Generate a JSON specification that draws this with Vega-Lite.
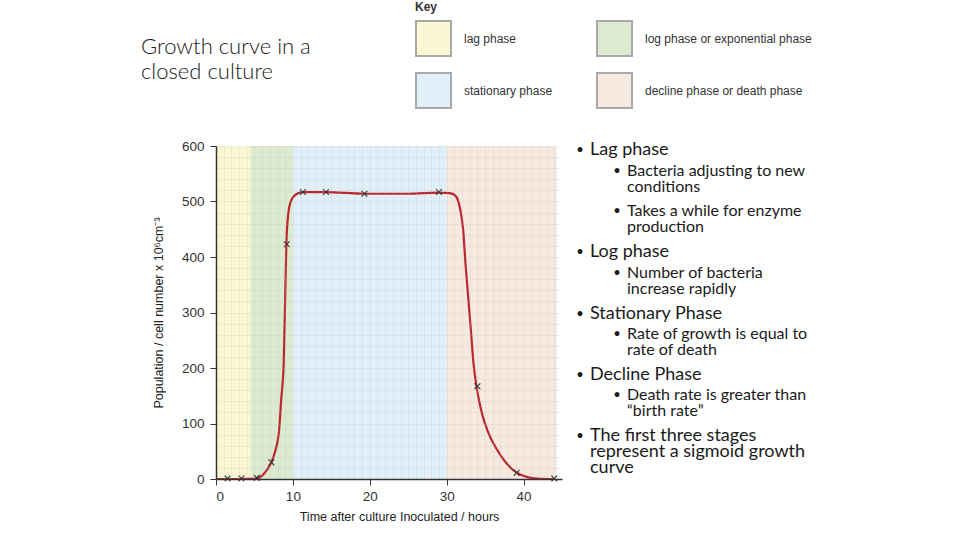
{
  "$schema": "https://vega.github.io/schema/vega-lite/v6.json",
  "padding": {"left": 141, "top": 2, "right": 5, "bottom": 5},
  "bounds": "flush",
  "spacing": 9.5,
  "background": "white",
  "config": {"view": {"stroke": null}, "font": "Liberation Sans"},
  "datasets": {
    "phases": [
      {"phase": "lag phase", "start": 0, "end": 4.5},
      {"phase": "log phase or exponential phase", "start": 4.5, "end": 10},
      {"phase": "stationary phase", "start": 10, "end": 30},
      {"phase": "decline phase or death phase", "start": 30, "end": 44.3}
    ],
    "curve": [
      {"time": 0, "population": 0}, {"time": 2, "population": 0}, {"time": 4, "population": 0.3},
      {"time": 5.3, "population": 1}, {"time": 6.0, "population": 6}, {"time": 6.7, "population": 18},
      {"time": 7.2, "population": 30}, {"time": 7.7, "population": 50}, {"time": 8.2, "population": 87},
      {"time": 8.5, "population": 147}, {"time": 8.8, "population": 207}, {"time": 9.0, "population": 327},
      {"time": 9.15, "population": 423}, {"time": 9.4, "population": 478}, {"time": 9.7, "population": 499},
      {"time": 10.1, "population": 509}, {"time": 10.7, "population": 515}, {"time": 11.3, "population": 517},
      {"time": 14.3, "population": 517}, {"time": 19.3, "population": 514}, {"time": 25, "population": 514},
      {"time": 29, "population": 516}, {"time": 30.4, "population": 515}, {"time": 31.1, "population": 511},
      {"time": 31.7, "population": 490}, {"time": 32.15, "population": 448}, {"time": 32.45, "population": 388},
      {"time": 32.8, "population": 328}, {"time": 33.15, "population": 268}, {"time": 33.5, "population": 207},
      {"time": 33.9, "population": 165}, {"time": 34.5, "population": 123}, {"time": 35.4, "population": 84},
      {"time": 36.5, "population": 54}, {"time": 37.5, "population": 33}, {"time": 39.06, "population": 12},
      {"time": 40.6, "population": 3}, {"time": 42.3, "population": 0.3}, {"time": 44, "population": 0}
    ],
    "samples": [
      {"time": 1.5, "population": 1}, {"time": 3.3, "population": 1}, {"time": 5.3, "population": 2},
      {"time": 7.2, "population": 30}, {"time": 9.2, "population": 423}, {"time": 11.3, "population": 517},
      {"time": 14.3, "population": 517}, {"time": 19.3, "population": 514}, {"time": 29.0, "population": 517},
      {"time": 34.0, "population": 167}, {"time": 39.1, "population": 11}, {"time": 44.0, "population": 1}
    ],
    "notes": [
      {"line": 0, "level": 1, "text": "Lag phase"},
      {"line": 1, "level": 2, "text": "Bacteria adjusting to new\nconditions"},
      {"line": 3, "level": 2, "text": "Takes a while for enzyme\nproduction"},
      {"line": 5, "level": 1, "text": "Log phase"},
      {"line": 6, "level": 2, "text": "Number of bacteria\nincrease rapidly"},
      {"line": 8, "level": 1, "text": "Stationary Phase"},
      {"line": 9, "level": 2, "text": "Rate of growth is equal to\nrate of death"},
      {"line": 11, "level": 1, "text": "Decline Phase"},
      {"line": 12, "level": 2, "text": "Death rate is greater than\n“birth rate”"},
      {"line": 14, "level": 1, "text": "The first three stages\nrepresent a sigmoid growth\ncurve"}
    ]
  },
  "hconcat": [
    {
      "width": 346,
      "height": 333,
      "title": {
        "text": ["Growth curve in a", "closed culture"],
        "anchor": "start",
        "frame": "group",
        "orient": "top",
        "dx": -75,
        "offset": 55,
        "font": "Lato",
        "fontSize": 22,
        "fontWeight": 300,
        "color": "#1a1a1a",
        "lineHeight": 25
      },
      "resolve": {"axis": {"x": "independent", "y": "independent"}},
      "layer": [
        {
          "data": {"name": "phases"},
          "mark": {"type": "rect"},
          "encoding": {
            "x": {
              "field": "start", "type": "quantitative",
              "scale": {"domain": [0, 45], "nice": false, "zero": false},
              "axis": {
                "orient": "top",
                "values": [1,2,3,4,5,6,7,8,9,10,11,12,13,14,15,16,17,18,19,20,21,22,23,24,25,26,27,28,29,30,31,32,33,34,35,36,37,38,39,40,41,42,43,44],
                "grid": true, "gridColor": "#b8b8b8", "gridOpacity": 0.28, "gridWidth": 0.7,
                "labels": false, "ticks": false, "domain": false, "title": null, "zindex": 1
              }
            },
            "x2": {"field": "end"},
            "y": {
              "datum": 0, "type": "quantitative",
              "scale": {"domain": [0, 600], "nice": false},
              "axis": {
                "orient": "right",
                "values": [20,40,60,80,100,120,140,160,180,200,220,240,260,280,300,320,340,360,380,400,420,440,460,480,500,520,540,560,580,600],
                "grid": true, "gridColor": "#b8b8b8", "gridOpacity": 0.28, "gridWidth": 0.7,
                "labels": false, "ticks": false, "domain": false, "title": null, "zindex": 1
              }
            },
            "y2": {"datum": 600},
            "color": {
              "field": "phase", "type": "nominal",
              "scale": {
                "domain": ["lag phase", "log phase or exponential phase", "stationary phase", "decline phase or death phase"],
                "range": ["#fbf7d3", "#dceacf", "#e1eff9", "#f6e9df"]
              },
              "legend": {
                "title": "Key",
                "orient": "none",
                "direction": "horizontal",
                "legendX": 199,
                "legendY": -144,
                "columns": 2,
                "symbolType": "square",
                "symbolSize": 1225,
                "symbolStrokeColor": "#a9a9a9",
                "symbolStrokeWidth": 2,
                "symbolOpacity": 1,
                "labelFont": "Liberation Sans",
                "labelFontSize": 12,
                "labelColor": "#333333",
                "labelOffset": 12,
                "labelLimit": 300,
                "columnPadding": 40,
                "rowPadding": 9,
                "titleFont": "Liberation Sans",
                "titleFontSize": 12,
                "titleFontWeight": "bold",
                "titleColor": "#333333",
                "titlePadding": 6
              }
            }
          }
        },
        {
          "data": {"name": "curve"},
          "mark": {"type": "line", "color": "#bb262c", "strokeWidth": 2.2, "interpolate": "monotone"},
          "encoding": {
            "x": {
              "field": "time", "type": "quantitative",
              "axis": {
                "orient": "bottom",
                "values": [0, 10, 20, 30, 40], "grid": false,
                "title": "Time after culture Inoculated / hours",
                "titleFont": "Liberation Sans", "titleFontSize": 12.5, "titleFontWeight": "normal",
                "titleColor": "#222222", "titlePadding": 8, "titleX": 183,
                "labelFont": "Liberation Sans", "labelFontSize": 13.5, "labelColor": "#333333",
                "labelPadding": 4, "tickSize": 6, "tickColor": "#333333",
                "domainColor": "#333333", "domainWidth": 1.5, "zindex": 1
              }
            },
            "y": {
              "field": "population", "type": "quantitative",
              "axis": {
                "orient": "left",
                "values": [0, 100, 200, 300, 400, 500, 600], "grid": false,
                "title": "Population / cell number x 10⁶cm⁻³",
                "titleFont": "Liberation Sans", "titleFontSize": 12.5, "titleFontWeight": "normal",
                "titleColor": "#222222", "titlePadding": 16,
                "labelFont": "Liberation Sans", "labelFontSize": 13.5, "labelColor": "#333333",
                "labelPadding": 6, "tickSize": 6, "tickColor": "#333333",
                "domainColor": "#333333", "domainWidth": 1.5, "zindex": 1
              }
            }
          }
        },
        {
          "data": {"name": "samples"},
          "mark": {"type": "point", "shape": "M-1,-1L1,1M-1,1L1,-1", "filled": false, "stroke": "#333333", "strokeWidth": 1.1, "size": 34, "opacity": 1},
          "encoding": {
            "x": {"field": "time", "type": "quantitative", "axis": null},
            "y": {"field": "population", "type": "quantitative", "axis": null}
          }
        }
      ]
    },
    {
      "width": 259,
      "height": 345,
      "data": {"name": "notes"},
      "encoding": {
        "x": {"field": "level", "type": "quantitative", "scale": {"domain": [0.5, 7.5], "nice": false, "zero": false}, "axis": null},
        "y": {
          "field": "line", "type": "ordinal",
          "scale": {"type": "point", "domain": [0,1,2,3,4,5,6,7,8,9,10,11,12,13,14,15,16], "padding": 0.45},
          "axis": null
        }
      },
      "layer": [
        {
          "mark": {"type": "text", "align": "left", "baseline": "alphabetic", "font": "Lato", "lineBreak": "\n", "lineHeight": 16, "color": "#1a1a1a"},
          "encoding": {
            "text": {"field": "text", "type": "nominal"},
            "size": {"field": "level", "type": "quantitative", "scale": {"domain": [1, 2], "range": [18, 16], "zero": false}, "legend": null}
          }
        },
        {
          "mark": {"type": "text", "align": "center", "baseline": "alphabetic", "font": "Lato", "fontSize": 13, "dx": -10, "dy": -1, "color": "#1a1a1a"},
          "encoding": {"text": {"value": "•"}}
        }
      ]
    }
  ]
}
